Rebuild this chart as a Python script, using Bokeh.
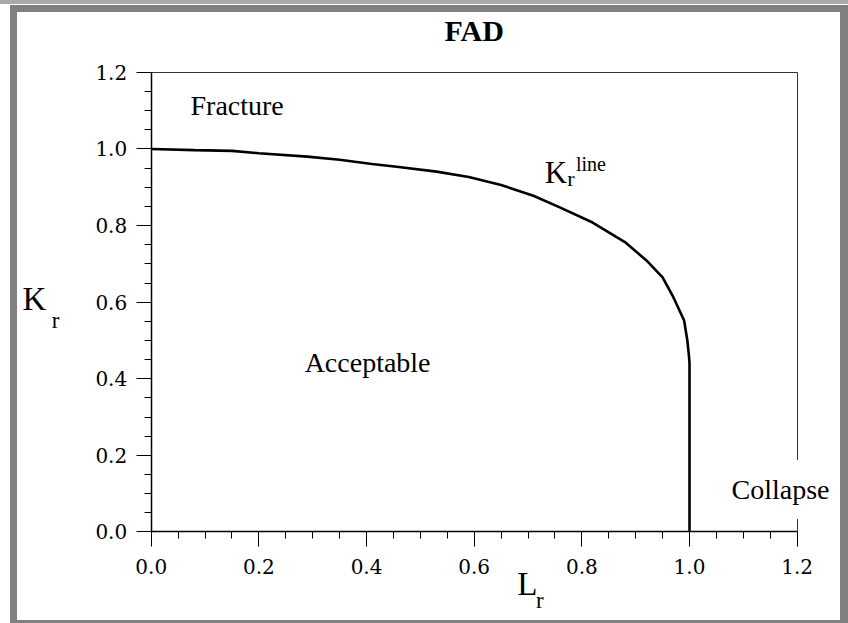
from bokeh.plotting import figure
from bokeh.models import Label, LinearAxis, FixedTicker, Range1d
from bokeh.layouts import column
from bokeh.embed import file_html
from bokeh.resources import INLINE

# Kr line (failure assessment curve)
lr = [0.0, 0.08, 0.15, 0.20, 0.29, 0.35, 0.41, 0.46, 0.53, 0.59, 0.65,
      0.71, 0.76, 0.82, 0.88, 0.92, 0.95, 0.97, 0.99, 0.996,
      0.999, 1.0, 1.0]
kr = [1.0, 0.997, 0.995, 0.989, 0.980, 0.972, 0.961, 0.953, 0.941,
      0.927, 0.906, 0.878, 0.847, 0.808, 0.757, 0.709, 0.665,
      0.613, 0.552, 0.50, 0.46, 0.44, 0.0]

major_ticks = [0.0, 0.2, 0.4, 0.6, 0.8, 1.0, 1.2]
tick_labels = ["0.0", "0.2", "0.4", "0.6", "0.8", "1.0", "1.2"]
minor_ticks = [0.05, 0.1, 0.15, 0.25, 0.3, 0.35, 0.45, 0.5, 0.55, 0.65, 0.7,
               0.75, 0.85, 0.9, 0.95, 1.05, 1.1, 1.15]
axis_bounds = (0.0, 1.2)

# the frame covers the whole white panel; axes sit at fixed data positions
p = figure(frame_width=823, frame_height=608,
           x_range=Range1d(-0.2484, 1.2805), y_range=Range1d(-0.2311, 1.3564),
           output_backend="svg", toolbar_location=None,
           min_border_left=0, min_border_right=0,
           min_border_top=0, min_border_bottom=0)
p.grid.visible = False
p.outline_line_color = None
p.background_fill_color = "white"
p.border_fill_color = "white"

for ax in (p.xaxis[0], p.yaxis[0]):
    ax.fixed_location = 0.0
    ax.bounds = axis_bounds
    ax.ticker = FixedTicker(ticks=major_ticks, minor_ticks=minor_ticks)
    ax.major_label_overrides = dict(zip(major_ticks, tick_labels))
    ax.major_tick_in = 0
    ax.major_tick_out = 15
    ax.minor_tick_in = 0
    ax.minor_tick_out = 7
    ax.axis_line_width = 1.5
    ax.axis_line_color = "black"
    ax.major_tick_line_color = "black"
    ax.minor_tick_line_color = "black"
    ax.major_label_text_font = "DejaVu Serif"
    ax.major_label_text_font_size = "20px"
    ax.major_label_text_color = "black"
p.xaxis[0].major_label_standoff = 12
p.yaxis[0].major_label_standoff = 9

for side in ("above", "right"):
    a = LinearAxis(ticker=FixedTicker(ticks=[]), major_label_text_color=None,
                   major_tick_line_color=None, minor_tick_line_color=None,
                   axis_line_width=1, axis_line_color="#333333",
                   fixed_location=1.2, bounds=axis_bounds)
    p.add_layout(a, side)

p.line(lr, kr, line_color="black", line_width=2.6)

SERIF = "Liberation Serif"
DY = 0.026  # baseline correction (about 10 px)


def lab(x, y, text, size, **kw):
    kw.setdefault("text_align", "left")
    p.add_layout(Label(x=x, y=y + DY, text=text, text_font=SERIF,
                       text_font_size=size, text_color="black",
                       text_baseline="alphabetic", **kw))


lab(0.6, 1.2833, "FAD", "30px", text_align="center", text_font_style="bold")
lab(0.073, 1.0875, "Fracture", "28px")
lab(0.285, 0.4164, "Acceptable", "28px")
lab(1.052, 0.085, "Collapse", "28px", background_fill_color="white",
    padding=14)
# Kr^line
lab(0.731, 0.9125, "K", "31px")
lab(0.773, 0.897, "r", "22px")
lab(0.789, 0.936, "line", "20px")
# axis labels L_r and K_r
lab(0.680, -0.163, "L", "33px")
lab(0.715, -0.205, "r", "23px")
lab(-0.239, 0.583, "K", "33px")
lab(-0.185, 0.526, "r", "23px")

frame = column(p, styles={
    "border-style": "solid",
    "border-color": "#808080",
    "border-width": "7px 8px 3px 7px",
    "margin-left": "10px",
    "margin-top": "5px",
})
page = column(frame, styles={
    "background": "linear-gradient(#a8a8a8 0px, #a8a8a8 4px, #ffffff 4px)",
    "width": "848px", "height": "623px",
})

open("out.html", "w").write(file_html(page, INLINE))
